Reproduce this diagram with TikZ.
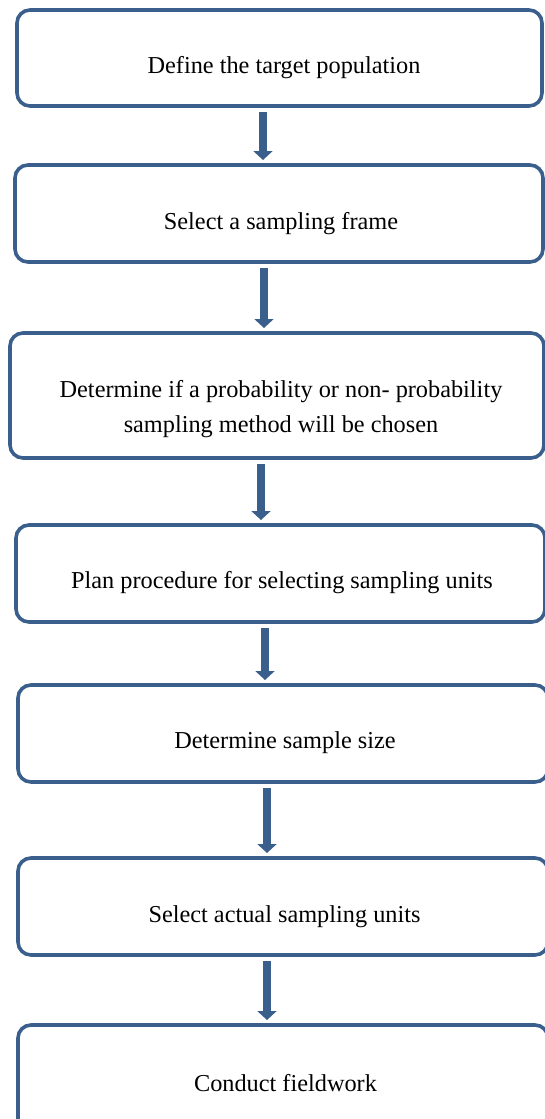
\documentclass[tikz,border=0pt]{standalone}
\usepackage{fontspec}
\setmainfont{Liberation Serif}
\usetikzlibrary{arrows.meta}
\definecolor{frameblue}{HTML}{3A5F8C}
\tikzset{
  x=1pt, y=-1pt,
  stepbox/.style={draw=frameblue, line width=3.6pt, rounded corners=13pt},
  steptext/.style={font=\fontsize{24.3}{35}\selectfont, align=center, inner sep=0pt},
  flow/.style={draw=frameblue, line width=7.5pt,
    -{Triangle[width=19pt,length=9pt]}, shorten <=6pt, shorten >=5pt}
}
\begin{document}
\begin{tikzpicture}
\useasboundingbox (0,0) rectangle (544,1119);
% step frames
\draw[stepbox] (17,10)  rectangle (542,106)  node[pos=0,inner sep=0pt] (b1) {};
\draw[stepbox] (15,165) rectangle (543,262)  node[pos=0,inner sep=0pt] (b2) {};
\draw[stepbox] (10,333) rectangle (544,458)  node[pos=0,inner sep=0pt] (b3) {};
\draw[stepbox] (16,525) rectangle (545,622)  node[pos=0,inner sep=0pt] (b4) {};
\draw[stepbox] (18,685) rectangle (548,782)  node[pos=0,inner sep=0pt] (b5) {};
\draw[stepbox] (18,858) rectangle (548,955)  node[pos=0,inner sep=0pt] (b6) {};
\draw[stepbox] (18,1025) rectangle (548,1135) node[pos=0,inner sep=0pt] (b7) {};
% step labels
\node[steptext] (t1) at (284,68)  {Define the target population};
\node[steptext] (t2) at (281,224) {Select a sampling frame};
\node[steptext] (t3) at (281,409) {Determine if a probability or non- probability\\sampling method will be chosen};
\node[steptext] (t4) at (282,583) {Plan procedure for selecting sampling units};
\node[steptext] (t5) at (285,743) {Determine sample size};
\node[steptext] (t6) at (284.5,917) {Select actual sampling units};
\node[steptext] (t7) at (285.5,1083) {Conduct fieldwork};
% connectors between frames
\coordinate (a1s) at (263,106); \coordinate (a1e) at (263,165);
\coordinate (a2s) at (264,262); \coordinate (a2e) at (264,333);
\coordinate (a3s) at (261,458); \coordinate (a3e) at (261,525);
\coordinate (a4s) at (265,622); \coordinate (a4e) at (265,685);
\coordinate (a5s) at (267,782); \coordinate (a5e) at (267,858);
\coordinate (a6s) at (267,955); \coordinate (a6e) at (267,1025);
\draw[flow] (a1s) -- (a1e);
\draw[flow] (a2s) -- (a2e);
\draw[flow] (a3s) -- (a3e);
\draw[flow] (a4s) -- (a4e);
\draw[flow] (a5s) -- (a5e);
\draw[flow] (a6s) -- (a6e);
\end{tikzpicture}
\end{document}
